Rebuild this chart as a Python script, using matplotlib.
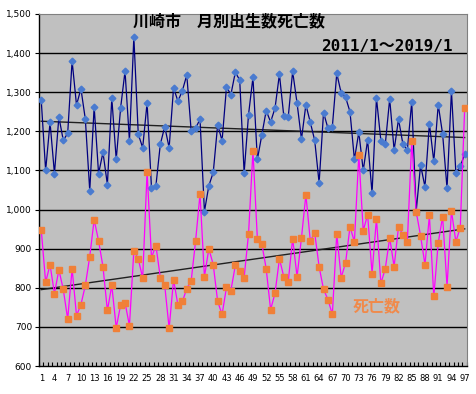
import matplotlib
matplotlib.use("Agg")
import matplotlib.pyplot as plt
import numpy as np

plt.rcParams['font.family'] = ['Noto Sans CJK JP', 'DejaVu Sans']

# monthly births (blue) and deaths (orange), Kawasaki, 2011/1 - 2019/1
births = [1280, 1100, 1223, 1092, 1237, 1177, 1195, 1380, 1267, 1309,
          1231, 1048, 1263, 1092, 1146, 1064, 1285, 1128, 1260, 1354,
          1176, 1441, 1193, 1158, 1273, 1055, 1061, 1167, 1212, 1158,
          1311, 1277, 1304, 1344, 1200, 1208, 1231, 995, 1061, 1095,
          1217, 1176, 1313, 1294, 1351, 1331, 1094, 1243, 1338, 1128,
          1190, 1253, 1224, 1259, 1346, 1238, 1237, 1353, 1272, 1180,
          1268, 1223, 1177, 1068, 1248, 1208, 1212, 1348, 1298, 1287,
          1250, 1128, 1198, 1100, 1178, 1042, 1285, 1176, 1167, 1283,
          1152, 1231, 1167, 1152, 1276, 995, 1114, 1058, 1220, 1123,
          1268, 1193, 1054, 1303, 1094, 1111, 1141]
deaths = [949, 814, 859, 785, 846, 796, 720, 849, 729, 757,
          806, 880, 974, 920, 854, 742, 806, 698, 756, 762,
          703, 895, 874, 825, 1097, 877, 908, 826, 806, 696,
          821, 755, 765, 798, 818, 920, 1040, 828, 900, 859,
          765, 732, 801, 793, 857, 844, 826, 938, 1150, 926,
          913, 849, 744, 786, 874, 828, 816, 926, 828, 928,
          1038, 920, 940, 854, 796, 770, 732, 938, 826, 864,
          956, 918, 1140, 946, 987, 836, 977, 811, 849, 928,
          854, 956, 936, 918, 1175, 995, 933, 859, 985, 778,
          915, 982, 803, 997, 918, 954, 1260]
months = np.arange(1, len(births) + 1)
y_ticks = [600, 700, 800, 900, 1000, 1100, 1200, 1300, 1400, 1500]

fig = plt.figure(figsize=(4.77, 3.94), dpi=100)
ax = fig.add_axes([0.0818, 0.071, 0.897, 0.8935])
ax.set_facecolor('#C0C0C0')

for v in y_ticks[1:-1]:
    ax.axhline(v, color='black', lw=1.0, zorder=1)

# linear trend lines
for series in (births, deaths):
    k, b = np.polyfit(months, series, 1)
    ax.plot(months, k * months + b, color='#202020', lw=1.0, zorder=2)

ax.plot(months, births, color='#000080', lw=0.9, marker='D', ms=3.4,
        mfc='#4A7BD0', mec='#4A7BD0', zorder=3)
ax.plot(months, deaths, color='#FF00FF', lw=0.9, marker='s', ms=4.4,
        mfc='#F08038', mec='#F08038', zorder=4)

ax.set_xlim(0.5, len(months) + 0.5)
ax.set_ylim(600, 1500)
ax.set_yticks(y_ticks)
ax.set_yticklabels([f"{v:,}" for v in y_ticks], fontsize=6.5, family='DejaVu Sans')
ax.set_xticks(months[::3])
ax.set_xticklabels([str(m) for m in months[::3]], fontsize=6, family='DejaVu Sans')
ax.set_xticks(np.arange(0.5, len(months) + 1), minor=True)
ax.tick_params(axis='x', which='major', length=0, pad=6)
ax.tick_params(axis='x', which='minor', length=3, direction='in', width=0.8)
ax.tick_params(axis='y', length=3, direction='out', width=0.8, pad=2)

for s in ('top', 'right'):
    ax.spines[s].set_color('#808080')
for s in ('left', 'bottom'):
    ax.spines[s].set_color('black')
    ax.spines[s].set_linewidth(1.0)

fig.text(0.279, 0.945, "川崎市　月別出生数死亡数", fontsize=11.5, fontweight='bold',
         va='center', ha='left')
fig.text(0.948, 0.883, "2011/1～2019/1", fontsize=11.5, fontweight='bold',
         family=['DejaVu Sans Mono', 'Noto Sans CJK JP'], va='center', ha='right')
fig.text(0.789, 0.223, "死亡数", fontsize=11.5,
         color='#F08A4B', fontweight='bold', va='center', ha='center')

fig.savefig("out.png", dpi=100)
